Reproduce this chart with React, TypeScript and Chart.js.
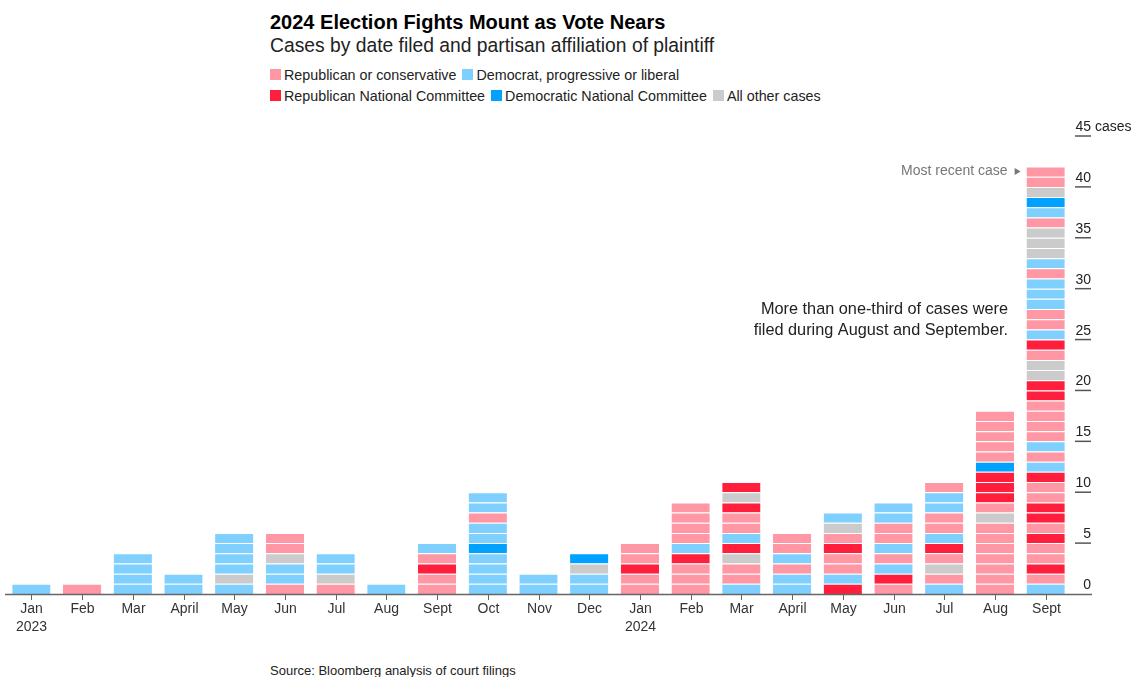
import { useEffect, useRef } from 'react';
import { Chart, registerables } from 'chart.js';

Chart.register(...registerables);

// Month labels (Jan 2023 .. Sept 2024)
const months = ['Jan', 'Feb', 'Mar', 'April', 'May', 'Jun', 'Jul', 'Aug', 'Sept', 'Oct', 'Nov', 'Dec',
  'Jan', 'Feb', 'Mar', 'April', 'May', 'Jun', 'Jul', 'Aug', 'Sept'];
const yearLabels = ['2023', '', '', '', '', '', '', '', '', '', '', '', '2024', '', '', '', '', '', '', '', ''];

// Each case per month, bottom to top.
// r = Republican or conservative, d = Democrat/progressive/liberal,
// R = Republican National Committee, D = Democratic National Committee, o = All other cases
const cases = [
  'd', 'r', 'dddd', 'dd', 'dodddd', 'rddorr', 'rodd', 'd', 'rrRrd', 'ddddDddrdd', 'dd', 'ddoD',
  'rrRrr', 'rrrRdrrrr', 'drroRdrrRoR', 'ddrdrr', 'RdrrRrod', 'rRdrdrrdd', 'drorRdrrddr',
  'rrrrrrrorRRRDrrrrr', 'drRrrRrRRrrRdrdrrrrRRoorRdrrdddrdooordDorr',
];

const categoryCodes = ['r', 'd', 'R', 'D', 'o'];
const categoryLabels = ['Republican or conservative', 'Democrat, progressive or liberal',
  'Republican National Committee', 'Democratic National Committee', 'All other cases'];
const categoryColors = ['#ff97a4', '#7fd0ff', '#ff1f3d', '#00a1ff', '#cbcbcb'];

const yTicks = [0, 5, 10, 15, 20, 25, 30, 35, 40, 45];

const FONT = '"Liberation Sans", Arial, Helvetica, sans-serif';

const colorOf = (code: string) => categoryColors[categoryCodes.indexOf(code)];

const overlayPlugin = {
  id: 'overlay',
  afterDatasetsDraw(chart: any) {
    const { ctx, scales } = chart;
    const x = scales.x;
    const y = scales.y;
    const y0 = y.getPixelForValue(0);
    ctx.save();
    // axis line
    ctx.strokeStyle = '#666';
    ctx.lineWidth = 1.5;
    ctx.beginPath();
    ctx.moveTo(5, y0 + 0.5);
    ctx.lineTo(1092, y0 + 0.5);
    ctx.stroke();
    // x ticks & labels
    ctx.fillStyle = '#333';
    ctx.font = `14px ${FONT}`;
    ctx.textAlign = 'center';
    ctx.textBaseline = 'middle';
    ctx.lineWidth = 1;
    months.forEach((m, i) => {
      const px = Math.round(x.getPixelForValue(i)) + 0.5;
      ctx.beginPath();
      ctx.moveTo(px, y0 + 1);
      ctx.lineTo(px, y0 + 6);
      ctx.stroke();
      ctx.fillText(m, px, y0 + 15);
      if (yearLabels[i]) ctx.fillText(yearLabels[i], px, y0 + 33);
    });
    // y labels with underlines
    ctx.textAlign = 'right';
    ctx.textBaseline = 'alphabetic';
    yTicks.forEach((v) => {
      const py = y.getPixelForValue(v);
      if (v !== 0) {
        ctx.strokeStyle = '#555';
        ctx.lineWidth = 1.5;
        ctx.beginPath();
        ctx.moveTo(1075, py);
        ctx.lineTo(1091, py);
        ctx.stroke();
      }
      ctx.fillStyle = '#222';
      ctx.textAlign = 'right';
      ctx.fillText(String(v), 1091, py - 5);
      if (v === 45) {
        ctx.textAlign = 'left';
        ctx.fillText('cases', 1095, py - 5);
      }
    });
    // "Most recent case" marker
    const last = cases.length - 1;
    const lastY = y.getPixelForValue(cases[last].length - 0.5);
    const barLeft = x.getPixelForValue(last) - 19;
    ctx.fillStyle = '#777';
    ctx.font = `14px ${FONT}`;
    ctx.textAlign = 'right';
    ctx.textBaseline = 'middle';
    ctx.fillText('Most recent case', barLeft - 19, lastY);
    ctx.beginPath();
    ctx.moveTo(barLeft - 12, lastY - 3.5);
    ctx.lineTo(barLeft - 6, lastY);
    ctx.lineTo(barLeft - 12, lastY + 3.5);
    ctx.closePath();
    ctx.fill();
    // annotation
    ctx.fillStyle = '#222';
    ctx.font = `16.3px ${FONT}`;
    ctx.fillText('More than one-third of cases were', 1008, 310 - 110);
    ctx.fillText('filed during August and September.', 1008, 331 - 110);
    ctx.restore();
  },
};

export default function App() {
  const canvasRef = useRef<HTMLCanvasElement | null>(null);

  useEffect(() => {
    if (!canvasRef.current) return;
    const maxLen = Math.max(...cases.map((c) => c.length));
    const datasets = [];
    for (let k = 0; k < maxLen; k++) {
      datasets.push({
        label: `level ${k}`,
        data: cases.map((c) => (c.length > k ? 1 : null)),
        backgroundColor: cases.map((c) => (c.length > k ? colorOf(c[k]) : 'transparent')),
        borderColor: '#ffffff',
        borderWidth: { top: 1, bottom: 0, left: 0, right: 0 },
        borderSkipped: false,
        barPercentage: 0.755,
        categoryPercentage: 1,
      });
    }
    const chart = new Chart(canvasRef.current, {
      type: 'bar',
      data: { labels: months.map((m, i) => `${m} ${i < 12 ? 2023 : 2024}`), datasets },
      options: {
        responsive: false,
        animation: false,
        layout: { padding: { left: 6, right: 62, top: 26, bottom: 56 } },
        plugins: { legend: { display: false }, tooltip: { enabled: false } },
        scales: {
          x: { stacked: true, display: false },
          y: { stacked: true, display: false, min: 0, max: 45 },
        },
      },
      plugins: [overlayPlugin],
    });
    return () => chart.destroy();
  }, []);

  const legendRow = (idx: number[]) => (
    <div style={{ display: 'flex', alignItems: 'center', height: 21 }}>
      {idx.map((i) => (
        <div key={i} style={{ display: 'flex', alignItems: 'center', marginRight: 6 }}>
          <span style={{ display: 'inline-block', width: 11, height: 11, background: categoryColors[i], marginRight: 3 }} />
          <span>{categoryLabels[i]}</span>
        </div>
      ))}
    </div>
  );

  return (
    <div style={{ position: 'absolute', left: 0, top: 0, width: 1133, height: 677, background: '#fff', fontFamily: FONT, color: '#222', overflow: 'hidden' }}>
      <div style={{ position: 'absolute', left: 270, top: 10, fontSize: 20, fontWeight: 'bold', lineHeight: '24px', whiteSpace: 'nowrap', color: '#000' }}>
        2024 Election Fights Mount as Vote Nears
      </div>
      <div style={{ position: 'absolute', left: 270, top: 34, fontSize: 19.3, lineHeight: '24px', whiteSpace: 'nowrap' }}>
        Cases by date filed and partisan affiliation of plaintiff
      </div>
      <div style={{ position: 'absolute', left: 270, top: 64, fontSize: 14.3, whiteSpace: 'nowrap', color: '#222' }}>
        {legendRow([0, 1])}
        {legendRow([2, 3, 4])}
      </div>
      <canvas ref={canvasRef} width={1133} height={540} style={{ position: 'absolute', left: 0, top: 110 }} />
      <div style={{ position: 'absolute', left: 270, top: 662, fontSize: 13, lineHeight: '18px', whiteSpace: 'nowrap', color: '#222' }}>
        Source: Bloomberg analysis of court filings
      </div>
    </div>
  );
}
